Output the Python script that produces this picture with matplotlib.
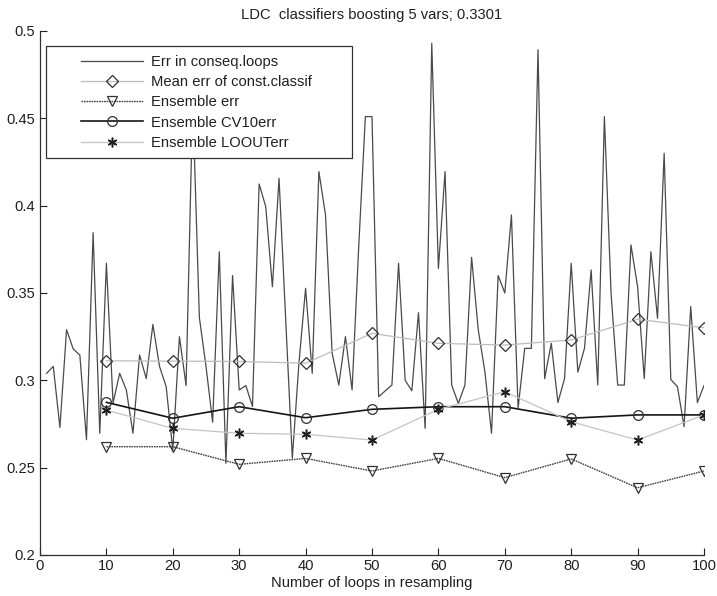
import matplotlib
matplotlib.use("Agg")
import matplotlib.pyplot as plt
from matplotlib.patches import Rectangle

plt.rcParams['font.family'] = ['Liberation Sans', 'DejaVu Sans']

# Data
loops = list(range(1, 101))
err_conseq = [
    0.304, 0.308, 0.273, 0.329, 0.318, 0.3145, 0.266, 0.3845, 0.2697, 0.367,
    0.287, 0.304, 0.2945, 0.2697, 0.3145, 0.301, 0.332, 0.308, 0.2964, 0.26,
    0.325, 0.297, 0.46, 0.336, 0.308, 0.276, 0.3736, 0.2525, 0.36, 0.2945,
    0.297, 0.285, 0.4124, 0.3994, 0.3536, 0.4157, 0.335, 0.2554, 0.31, 0.3527,
    0.304, 0.4195, 0.3947, 0.3155, 0.2973, 0.325, 0.2945, 0.3765, 0.451, 0.451,
    0.2906, 0.294, 0.2973, 0.367, 0.300, 0.294, 0.3387, 0.2725, 0.493, 0.364,
    0.4195, 0.2973, 0.2868, 0.2973, 0.3704, 0.329, 0.305, 0.2697, 0.360, 0.350,
    0.3947, 0.284, 0.3183, 0.3183, 0.4893, 0.301, 0.3212, 0.2873, 0.301, 0.367,
    0.3047, 0.3183, 0.3632, 0.2973, 0.451, 0.350, 0.2973, 0.2973, 0.3775, 0.3536,
    0.301, 0.3736, 0.3355, 0.430, 0.3005, 0.2964, 0.2735, 0.3422, 0.2873, 0.297,
]
ens_x = [10, 20, 30, 40, 50, 60, 70, 80, 90, 100]
mean_err = [0.3112, 0.311, 0.3108, 0.3098, 0.3269, 0.3212, 0.3202, 0.3231, 0.335, 0.3301]
ens_err = [0.262, 0.262, 0.2519, 0.2553, 0.2481, 0.2553, 0.2443, 0.255, 0.2385, 0.2481]
cv10_err = [0.2874, 0.2783, 0.2849, 0.2786, 0.2834, 0.2849, 0.2849, 0.2783, 0.2802, 0.2802]
loo_err = [0.283, 0.2725, 0.2697, 0.2691, 0.2658, 0.2834, 0.2935, 0.2763, 0.2658, 0.2802]

labels = ['Err in conseq.loops', 'Mean err of const.classif', 'Ensemble err',
          'Ensemble CV10err', 'Ensemble LOOUTerr']
title = 'LDC  classifiers boosting 5 vars; 0.3301'
xlabel = 'Number of loops in resampling'
xticks = [0, 10, 20, 30, 40, 50, 60, 70, 80, 90, 100]
yticks = [0.2, 0.25, 0.3, 0.35, 0.4, 0.45, 0.5]
yticklabels = ['0.2', '0.25', '0.3', '0.35', '0.4', '0.45', '0.5']

fs = 10.6
fig = plt.figure(figsize=(7.17, 5.96), dpi=100)
ax = fig.add_axes([40/717, 1-555/596, 664/717, 524/596])

ms = 7
h1, = ax.plot(loops, err_conseq, '-', color='#4a4a4a', lw=0.9)
h2, = ax.plot(ens_x, mean_err, '-', color='#bdbdbd', lw=0.9, marker='D',
              ms=6, mfc='none', mec='#303030', mew=0.9)
h3, = ax.plot(ens_x, ens_err, color='#404040', lw=1.0, ls=(0, (1.2, 0.6)),
              marker='v', ms=ms, mfc='none', mec='#303030', mew=0.9)
h4, = ax.plot(ens_x, cv10_err, '-', color='#151515', lw=1.2, marker='o',
              ms=ms, mfc='none', mec='#303030', mew=0.9)
h5, = ax.plot(ens_x, loo_err, '-', color='#c4c4c4', lw=0.9, marker=(6, 2, 0),
              ms=7, mfc='#202020', mec='#202020', mew=1.1)

ax.set_xlim(0, 100)
ax.set_ylim(0.2, 0.5)
ax.set_xticks(xticks)
ax.set_yticks(yticks)
ax.set_yticklabels(yticklabels)
ax.tick_params(direction='in', length=5, width=0.8, labelsize=fs, colors='#202020')
ax.tick_params(axis='x', pad=3)
for s in ['top', 'right']:
    ax.spines[s].set_visible(False)
for s in ['left', 'bottom']:
    ax.spines[s].set_color('#303030')
    ax.spines[s].set_linewidth(0.9)

ax.set_title(title, fontsize=fs, pad=9, color='#202020')
ax.set_xlabel(xlabel, fontsize=fs, labelpad=2, color='#202020')

# legend box
x0 = (46-40)/664
x1 = (352-40)/664
y0 = (555-158)/524
y1 = (555-46)/524
rect = Rectangle((x0, y0), x1-x0, y1-y0, transform=ax.transAxes,
                 facecolor='white', edgecolor='#303030', lw=0.9, zorder=9)
ax.add_patch(rect)
leg = ax.legend([h1, h2, h3, h4, h5], labels, loc='upper left',
                bbox_to_anchor=((81-40)/664, (555-55)/524), frameon=False,
                borderpad=0, borderaxespad=0, numpoints=1, handlelength=4.2,
                handletextpad=0.55, labelspacing=0.42, fontsize=fs)
leg.set_zorder(10)
for t in leg.get_texts():
    t.set_color('#202020')

fig.savefig('out.png', dpi=100)
